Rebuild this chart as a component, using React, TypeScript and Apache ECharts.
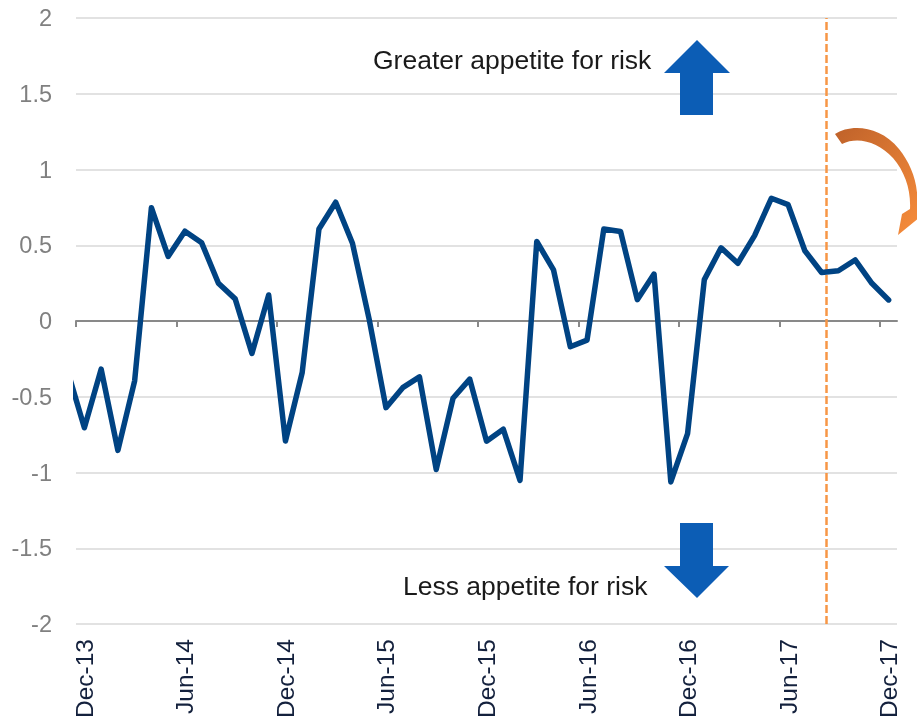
import React, { useEffect, useRef } from "react";
import * as echarts from "echarts";

// Tick labels on the month axis (every 6 months)
const tickLabels = ["Dec-13", "Jun-14", "Dec-14", "Jun-15", "Dec-15", "Jun-16", "Dec-16", "Jun-17", "Dec-17"];

// Monthly index values, Nov-13 (partly off the plot) through Dec-17
const values = [
  -0.33, -0.705, -0.318, -0.854, -0.395, 0.748, 0.426, 0.593, 0.516, 0.249,
  0.146, -0.214, 0.172, -0.792, -0.34, 0.607, 0.784, 0.513, 0.01, -0.572,
  -0.44, -0.369, -0.98, -0.51, -0.384, -0.793, -0.714, -1.052, 0.525, 0.337,
  -0.17, -0.126, 0.607, 0.591, 0.141, 0.31, -1.062, -0.744, 0.273, 0.483,
  0.381, 0.564, 0.81, 0.768, 0.464, 0.32, 0.332, 0.403, 0.249, 0.139,
];

// Position (in months from the Dec-13 tick) of the dashed marker
const markerMonth = 44.78;

const upText = "Greater appetite for risk";
const downText = "Less appetite for risk";

const arrowPath =
  "M835 134 C850 124 880 125 899 149 C911 164 919 184 917 206 L926 212 L898 235 L902 214 L910 209 C911 190 905 172 893 158 C878 142 858 136 842 144 Z";

let registered = false;

export default function App() {
  const ref = useRef<HTMLDivElement>(null);
  useEffect(() => {
    if (!ref.current) return;
    if (!registered) {
      echarts.graphic.registerShape("curvedArrow", echarts.graphic.extendPath(arrowPath, {}));
      registered = true;
    }
    const chart = echarts.init(ref.current, null, { renderer: "svg" });
    const seriesData = values.map((v, i) => [i - 0.5, v]);
    const tickVals = tickLabels.map((_, i) => i * 6);
    const labelVals = tickLabels.map((_, i) => i * 6 + 0.5);
    const font = "'Liberation Sans', Arial, sans-serif";
    chart.setOption({
      animation: false,
      grid: { left: 76, right: 20, top: 18, bottom: 101, containLabel: false },
      xAxis: [
        {
          type: "value",
          min: 0,
          max: 49,
          position: "bottom",
          axisLine: { show: true, onZero: true, lineStyle: { color: "#898989", width: 2 } },
          axisTick: { show: true, customValues: tickVals, length: 6, lineStyle: { color: "#898989", width: 2 } },
          axisLabel: { show: false },
          splitLine: { show: false },
        },
        {
          type: "value",
          min: 0,
          max: 49,
          position: "bottom",
          axisLine: { show: false, onZero: false },
          axisTick: { show: false },
          splitLine: { show: false },
          axisLabel: {
            show: true,
            customValues: labelVals,
            rotate: 90,
            margin: 15,
            fontSize: 24.5,
            fontFamily: font,
            color: "#14213d",
            formatter: (v: number) => tickLabels[Math.round((v - 0.5) / 6)] ?? "",
          },
        },
      ],
      yAxis: {
        type: "value",
        min: -2,
        max: 2,
        interval: 0.5,
        axisLine: { show: false },
        axisTick: { show: false },
        axisLabel: { margin: 24, fontSize: 23.5, fontFamily: font, color: "#808080" },
        splitLine: { show: true, lineStyle: { color: "#d9d9d9", width: 1.5 } },
      },
      series: [
        {
          type: "line",
          xAxisIndex: 0,
          data: seriesData,
          showSymbol: false,
          clip: true,
          z: 5,
          lineStyle: { color: "#004383", width: 5.5, cap: "round", join: "round" },
          markLine: {
            silent: true,
            symbol: "none",
            label: { show: false },
            lineStyle: { color: "#f79646", width: 2.5, type: [8, 3] },
            data: [{ xAxis: markerMonth }],
          },
        },
      ],
      graphic: [
        {
          type: "text",
          left: 373,
          top: 46,
          z: 100,
          style: { text: upText, fontSize: 26.5, fontFamily: font, fill: "#1a1a1a" },
        },
        {
          type: "text",
          left: 403,
          top: 572,
          z: 100,
          style: { text: downText, fontSize: 26.5, fontFamily: font, fill: "#1a1a1a" },
        },
        {
          type: "polygon",
          z: 100,
          shape: { points: [[697, 40], [730, 73], [713, 73], [713, 115], [680, 115], [680, 73], [664, 73]] },
          style: { fill: "#0c5db5" },
        },
        {
          type: "polygon",
          z: 100,
          shape: { points: [[680, 523], [713, 523], [713, 566], [729, 566], [697, 598], [664, 566], [680, 566]] },
          style: { fill: "#0c5db5" },
        },
        {
          type: "curvedArrow",
          x: 0,
          y: 0,
          scaleX: 1,
          scaleY: 1,
          z: 100,
          style: {
            fill: new echarts.graphic.LinearGradient(0, 0, 1, 1, [
              { offset: 0, color: "#bf622a" },
              { offset: 1, color: "#fa8f3c" },
            ]),
          },
        },
      ],
    });
    return () => chart.dispose();
  }, []);
  return <div ref={ref} style={{ position: "fixed", left: 0, top: 0, width: 917, height: 725 }} />;
}
